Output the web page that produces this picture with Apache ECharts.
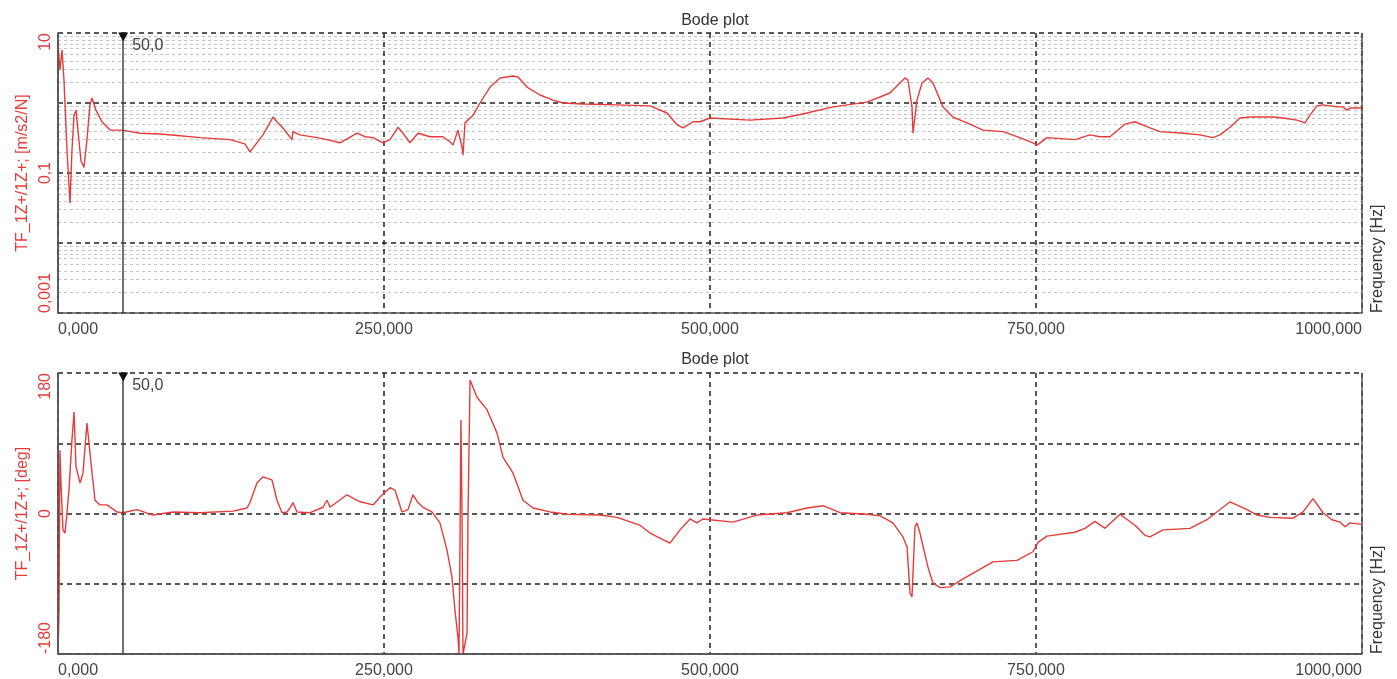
<!DOCTYPE html>
<html>
<head>
<meta charset="utf-8">
<title>Bode plot</title>
<script src="https://cdn.jsdelivr.net/npm/echarts@6/dist/echarts.min.js"></script>
<style>
  html, body { margin: 0; padding: 0; background: #fff; }
  #main { width: 1397px; height: 679px; }
</style>
</head>
<body>
<div id="main"></div>
<script>
// magnitude trace (Hz, m/s2/N)
let magFreq = [0, 1.5, 3.1, 4.6, 6.9, 9.2, 10.7, 12.3, 13.8, 15.3,
  17.6, 19.9, 22.2, 24.5, 26.1, 29.1, 33.7, 39.9, 49.1, 62.9,
  78.2, 93.6, 108.9, 131.9, 143.4, 147.2, 157.2, 164.9, 167.9, 172.5,
  179.4, 180.2, 185.6, 198.6, 206.3, 216.3, 229.3, 235.4, 241.6, 249.2,
  254.6, 260.7, 264.6, 269.9, 276.1, 285.3, 295.2, 300.6, 302.9, 306.7,
  309.8, 310.6, 312.1, 318.3, 323.6, 331.3, 339.0, 348.9, 352.8, 359.7,
  369.6, 379.6, 387.3, 402.6, 428.7, 454.0, 467.0, 474.7, 479.3, 487.0,
  492.3, 500.0, 530.7, 556.0, 574.4, 594.3, 620.4, 638.0, 649.5, 651.8,
  654.9, 655.7, 658.7, 662.6, 667.2, 671.0, 678.7, 686.3, 697.1, 709.4,
  724.7, 735.4, 747.7, 750.8, 758.4, 779.9, 791.4, 799.1, 806.7, 818.3,
  825.9, 837.4, 845.1, 862.7, 875.8, 885.7, 891.1, 898.8, 906.4, 914.1,
  931.7, 939.4, 950.2, 956.3, 960.1, 965.5, 970.1, 980.8, 985.4, 988.5,
  990.8, 1000];
let magValue = [6.7, 3.0, 5.7, 2.1, 0.21, 0.037, 0.21, 0.67, 0.79, 0.41,
  0.15, 0.12, 0.30, 0.94, 1.18, 0.79, 0.54, 0.41, 0.41, 0.37,
  0.36, 0.34, 0.32, 0.30, 0.26, 0.20, 0.35, 0.63, 0.54, 0.44,
  0.30, 0.39, 0.35, 0.32, 0.30, 0.27, 0.37, 0.33, 0.32, 0.27,
  0.30, 0.45, 0.37, 0.27, 0.37, 0.33, 0.33, 0.28, 0.25, 0.41,
  0.235, 0.18, 0.52, 0.67, 1.0, 1.69, 2.28, 2.43, 2.35, 1.69,
  1.30, 1.10, 1.0, 0.97, 0.94, 0.91, 0.72, 0.49, 0.44, 0.54,
  0.54, 0.61, 0.57, 0.61, 0.72, 0.88, 1.03, 1.39, 2.28, 2.13,
  0.88, 0.37, 1.10, 1.93, 2.28, 1.93, 0.88, 0.63, 0.52, 0.41,
  0.39, 0.33, 0.27, 0.25, 0.32, 0.30, 0.35, 0.33, 0.33, 0.50,
  0.54, 0.44, 0.39, 0.37, 0.35, 0.32, 0.35, 0.45, 0.61, 0.63,
  0.63, 0.61, 0.57, 0.52, 0.67, 0.91, 0.94, 0.88, 0.88, 0.79,
  0.85, 0.85];

// phase trace (Hz, deg)
let phaseFreq = [0, 0.8, 1.5, 2.3, 3.8, 5.4, 6.9, 8.4, 10.7, 12.3,
  13.8, 16.9, 19.2, 22.2, 23.0, 26.1, 28.4, 32.2, 37.6, 45.2,
  49.8, 60.6, 72.9, 88.2, 108.9, 134.2, 144.9, 147.2, 152.6, 157.2,
  164.1, 167.9, 171.8, 175.6, 177.9, 180.2, 183.3, 193.3, 203.2, 206.3,
  208.6, 221.6, 231.6, 241.6, 246.9, 254.6, 258.4, 263.8, 268.4, 272.2,
  276.1, 279.9, 286.8, 292.9, 298.3, 302.1, 304.4, 306.7, 307.5, 308.3,
  309.0, 309.8, 310.6, 313.7, 314.4, 316.0, 321.3, 329.0, 336.7, 341.3,
  348.9, 356.6, 364.3, 377.3, 390.3, 415.6, 428.7, 441.0, 446.3, 454.0,
  469.3, 477.0, 484.7, 490.0, 494.6, 500.0, 517.6, 536.0, 559.0, 574.4,
  586.7, 599.7, 620.4, 630.4, 640.3, 648.0, 651.1, 653.4, 654.9, 657.2,
  658.7, 661.0, 667.2, 671.0, 676.4, 684.0, 697.1, 717.0, 735.4, 747.7,
  751.5, 758.4, 779.9, 787.6, 795.2, 802.9, 814.4, 825.9, 833.6, 837.4,
  847.4, 868.1, 881.1, 898.8, 911.8, 919.5, 929.4, 947.1, 954.8, 962.4,
  970.1, 977.0, 983.1, 986.9, 990.8, 1000];
let phaseValue = [-180, -124, 81, 39, -21, -25, 1, 30, 94, 130,
  60, 39, 52, 116, 117, 52, 17, 11, 11, 2,
  1, 5, -2, 2, 1, 3, 7, 14, 39, 47,
  43, 17, 1, 2, 7, 14, 2, 1, 8, 17,
  8, 24, 15, 11, 21, 33, 30, 2, 5, 24,
  14, 8, 2, -12, -47, -81, -124, -158, -180, -34,
  120, 5, -180, -153, -5, 171, 149, 133, 103, 72,
  52, 17, 7, 2, -1, -2, -5, -12, -15, -25,
  -38, -21, -7, -12, -7, -8, -11, -2, 1, 7,
  10, 1, -1, -3, -12, -30, -43, -102, -107, -17,
  -12, -25, -69, -89, -95, -94, -81, -62, -60, -49,
  -37, -29, -24, -19, -10, -19, -1, -15, -28, -30,
  -21, -19, -8, 15, 5, -2, -5, -6, 2, 19,
  1, -8, -11, -17, -12, -14];

let cursorFreq = 50;
let cursorLabel = '50,0';

const red = '#e63b3b';
const font = 'Liberation Sans, Arial, sans-serif';
const frame = { color: '#555', type: 'solid', width: 1.5 };

function zip(xs, ys) {
  return xs.map((x, i) => [x, ys[i]]);
}
function comma(v, digits) {
  return v.toFixed(digits).replace('.', ',');
}

// x axis shared look
function freqAxis(gridIndex) {
  return {
    type: 'value', gridIndex: gridIndex,
    min: 0, max: 1000, interval: 250,
    name: 'Frequency [Hz]', nameLocation: 'end', nameRotate: 90, nameGap: 8,
    nameTextStyle: { color: '#333', fontSize: 16, fontFamily: font, align: 'left', verticalAlign: 'top' },
    axisLine: { onZero: false, lineStyle: { color: '#555', width: 1.5 } },
    axisTick: { show: false },
    axisLabel: {
      color: '#444', fontSize: 16, fontFamily: font, margin: 9,
      alignMinLabel: 'left', alignMaxLabel: 'right',
      formatter: v => comma(v, 3)
    },
    splitLine: { show: true, lineStyle: { color: '#222', type: [5, 4], width: 1.5 } }
  };
}

// cursor line + solid frame edges over the dashed split lines
function cursorMarks(bottomValue, topValue) {
  return {
    markLine: {
      silent: true, symbol: 'none', animation: false,
      label: { show: false },
      data: [
        { xAxis: cursorFreq, lineStyle: { color: '#444', type: 'solid', width: 1.5 } },
        { xAxis: 0, lineStyle: frame },
        { xAxis: 1000, lineStyle: frame },
        { yAxis: bottomValue, lineStyle: frame }
      ]
    },
    markPoint: {
      silent: true, animation: false,
      data: [{
        coord: [cursorFreq, topValue],
        symbol: 'triangle', symbolRotate: 180, symbolSize: [10, 9], symbolOffset: [0, 4],
        itemStyle: { color: '#111' },
        label: { show: true, position: 'right', formatter: cursorLabel, color: '#444',
                 fontSize: 16, fontFamily: font, distance: 4, offset: [0, 9] }
      }]
    }
  };
}

let chart = echarts.init(document.getElementById('main'));
let option = {
  animation: false,
  backgroundColor: '#fff',
  title: [
    { text: 'Bode plot', left: 710, top: 8, textAlign: 'center',
      textStyle: { color: '#333', fontSize: 16, fontWeight: 'normal', fontFamily: font } },
    { text: 'Bode plot', left: 710, top: 347, textAlign: 'center',
      textStyle: { color: '#333', fontSize: 16, fontWeight: 'normal', fontFamily: font } }
  ],
  grid: [
    { left: 58, right: 35, top: 33, height: 280 },
    { left: 58, right: 35, top: 373, height: 281 }
  ],
  xAxis: [freqAxis(0), freqAxis(1)],
  yAxis: [
    {
      type: 'log', logBase: 10, gridIndex: 0, min: 0.001, max: 10,
      name: 'TF_1Z+/1Z+; [m/s2/N]', nameLocation: 'middle', nameGap: 26,
      nameTextStyle: { color: red, fontSize: 16, fontFamily: font },
      axisLine: { lineStyle: { color: '#555', width: 1.5 } },
      axisTick: { show: false },
      axisLabel: {
        color: red, fontSize: 16, fontFamily: font, rotate: 90, margin: 4,
        alignMinLabel: 'left', alignMaxLabel: 'right',
        formatter: v => {
          let e = Math.round(Math.log10(v));
          return (e % 2 !== 0) ? String(v).replace('.', ',') : '';
        }
      },
      splitLine: { show: true, lineStyle: { color: '#222', type: [5, 4], width: 1.5 } },
      minorTick: { show: false, splitNumber: 9 },
      minorSplitLine: { show: true, lineStyle: { color: '#c4c4c4', type: [3, 3], width: 1 } }
    },
    {
      type: 'value', gridIndex: 1, min: -180, max: 180, interval: 90,
      name: 'TF_1Z+/1Z+; [deg]', nameLocation: 'middle', nameGap: 26,
      nameTextStyle: { color: red, fontSize: 16, fontFamily: font },
      axisLine: { lineStyle: { color: '#555', width: 1.5 } },
      axisTick: { show: false },
      axisLabel: {
        color: red, fontSize: 16, fontFamily: font, rotate: 90, margin: 4,
        alignMinLabel: 'left', alignMaxLabel: 'right',
        formatter: v => (Math.abs(v) === 90 ? '' : String(v))
      },
      splitLine: { show: true, lineStyle: { color: '#222', type: [5, 4], width: 1.5 } }
    }
  ],
  series: [
    Object.assign({
      name: 'magnitude', type: 'line', xAxisIndex: 0, yAxisIndex: 0,
      data: zip(magFreq, magValue),
      showSymbol: false, clip: true,
      lineStyle: { color: red, width: 1.4 }
    }, cursorMarks(0.001, 10)),
    Object.assign({
      name: 'phase', type: 'line', xAxisIndex: 1, yAxisIndex: 1,
      data: zip(phaseFreq, phaseValue),
      showSymbol: false, clip: true,
      lineStyle: { color: red, width: 1.4 }
    }, cursorMarks(-180, 180))
  ]
};
chart.setOption(option);
</script>
</body>
</html>
